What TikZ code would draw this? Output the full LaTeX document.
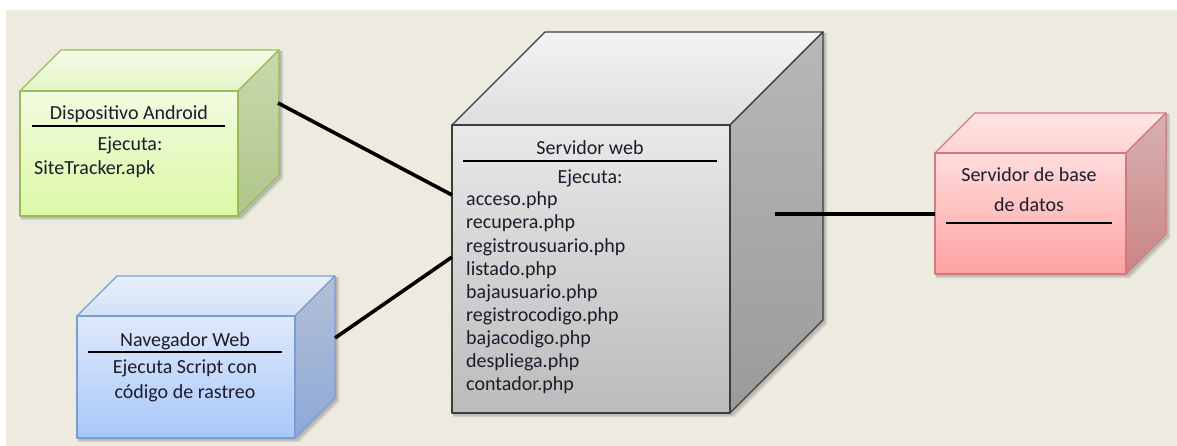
\documentclass[tikz,border=0pt]{standalone}
\usepackage{fontspec}
\setmainfont{Carlito}
\usetikzlibrary{calc}
\definecolor{bg}{HTML}{EDEAE0}
\definecolor{txtc}{HTML}{1C1C2C}
% android (green)
\definecolor{andF1}{HTML}{F2FBE0}\definecolor{andF2}{HTML}{DCF8A4}
\definecolor{andT1}{HTML}{F4FBE6}\definecolor{andT2}{HTML}{E4F3C6}
\definecolor{andS1}{HTML}{C9D9AC}\definecolor{andS2}{HTML}{AEC68A}
\definecolor{andB}{HTML}{9BBB59}
% navegador (blue)
\definecolor{navF1}{HTML}{DFE9FA}\definecolor{navF2}{HTML}{A7C7FA}
\definecolor{navT1}{HTML}{E8EFFB}\definecolor{navT2}{HTML}{D3E0F6}
\definecolor{navS1}{HTML}{B4C0D6}\definecolor{navS2}{HTML}{8DA8D8}
\definecolor{navB}{HTML}{7A9CD3}
% servidor (grey)
\definecolor{srvF1}{HTML}{E9E9E9}\definecolor{srvF2}{HTML}{BBBBBB}
\definecolor{srvT1}{HTML}{F3F3F3}\definecolor{srvT2}{HTML}{DEDEDE}
\definecolor{srvS1}{HTML}{B8B8B8}\definecolor{srvS2}{HTML}{9A9A9A}
\definecolor{srvB}{HTML}{3C3C3C}
% base de datos (red)
\definecolor{dbF1}{HTML}{FFDCDC}\definecolor{dbF2}{HTML}{FFA2A2}
\definecolor{dbT1}{HTML}{FFE6E6}\definecolor{dbT2}{HTML}{FFD2D2}
\definecolor{dbS1}{HTML}{D9B0B0}\definecolor{dbS2}{HTML}{C98585}
\definecolor{dbB}{HTML}{D47A7A}
\tikzset{
  txt/.style={font=\fontsize{20}{23}\selectfont, text=txtc, inner sep=0pt},
  sep/.style={black, line width=1.2pt},
  conn/.style={black, line width=3.6pt},
  face/.style={line width=1.3pt, line join=round},
}
% #1 name, #2 x1, #3 y1, #4 x2, #5 y2, #6 depth, #7 colour prefix
\newcommand\drawcube[7]{%
  \foreach \o/\a in {4/0.10,2.5/0.12}{
    \fill[black,opacity=\a] ({#2+1},{#3+1}) -- ({#2+#6+1},{#3-#6+1}) -- ({#4+#6+\o},{#3-#6+1})
      -- ({#4+#6+\o},{#5-#6+\o}) -- ({#4+\o},{#5+\o}) -- ({#2+1},{#5+\o}) -- cycle;
  }
  \shadedraw[face, draw=#7B, top color=#7T1, bottom color=#7T2]
    (#2,#3) -- ({#2+#6},{#3-#6}) -- ({#4+#6},{#3-#6}) -- (#4,#3) -- cycle;
  \shadedraw[face, draw=#7B, top color=#7S1, bottom color=#7S2]
    (#4,#3) -- ({#4+#6},{#3-#6}) -- ({#4+#6},{#5-#6}) -- (#4,#5) -- cycle;
  \node[face, draw=#7B, top color=#7F1, bottom color=#7F2, inner sep=0pt, outer sep=0pt,
        minimum width={(#4-#2)*1pt}, minimum height={(#5-#3)*1pt}, anchor=north west]
        (#1) at (#2,#3) {};
}
\begin{document}
\begin{tikzpicture}[x=1pt,y=-1pt]
\useasboundingbox (0,0) rectangle (1177,446);
\fill[white] (0,0) rectangle (1177,446);
\fill[bg] (6,10) rectangle (1177,446);

% cubes
\drawcube{and}{20}{91}{238}{216}{41}{and}
\drawcube{nav}{77}{316}{295}{438}{40}{nav}
\drawcube{srv}{452}{125}{730}{413}{93}{srv}
\drawcube{db}{935}{153}{1126}{274}{40}{db}

% Dispositivo Android
\node[txt, anchor=base] (andTitle) at (129,120) {Dispositivo Android};
\draw[sep] (32,126) -- (225,126);
\node[txt, anchor=base] (andEj) at (130,151) {Ejecuta:};
\node[txt, anchor=base west] (andApk) at (34,175) {SiteTracker.apk};

% Navegador Web
\node[txt, anchor=base] (navTitle) at (185,346) {Navegador Web};
\draw[sep] (88,352) -- (282,352);
\node[txt, anchor=base] (navL1) at (185,373) {Ejecuta Script con};
\node[txt, anchor=base] (navL2) at (185,398) {código de rastreo};

% Servidor web
\node[txt, anchor=base] (srvTitle) at (590,155) {Servidor web};
\draw[sep] (463,161) -- (717,161);
\node[txt, anchor=base] (srvEj) at (590,184) {Ejecuta:};
\foreach \f [count=\i from 0] in {acceso,recupera,registrousuario,listado,bajausuario,registrocodigo,bajacodigo,despliega,contador}{
  \node[txt, anchor=base west] (srvF\i) at (466,{206+23*\i}) {\f.php};
}

% Servidor de base de datos
\node[txt, anchor=base] (dbL1) at (1029,182) {Servidor de base};
\node[txt, anchor=base] (dbL2) at (1029,212) {de datos};
\draw[sep] (946,223) -- (1112,223);

% connectors
\draw[conn] ($(and.north east)+(40,12)$) -- ($(srv.north west)+(0,70)$);
\draw[conn] ($(nav.north east)+(40,22)$) -- ($(srv.north west)+(0,132)$);
\draw[conn] ($(srv.north east)+(45,89)$) -- ($(db.north west)+(0,61)$);
\end{tikzpicture}
\end{document}
